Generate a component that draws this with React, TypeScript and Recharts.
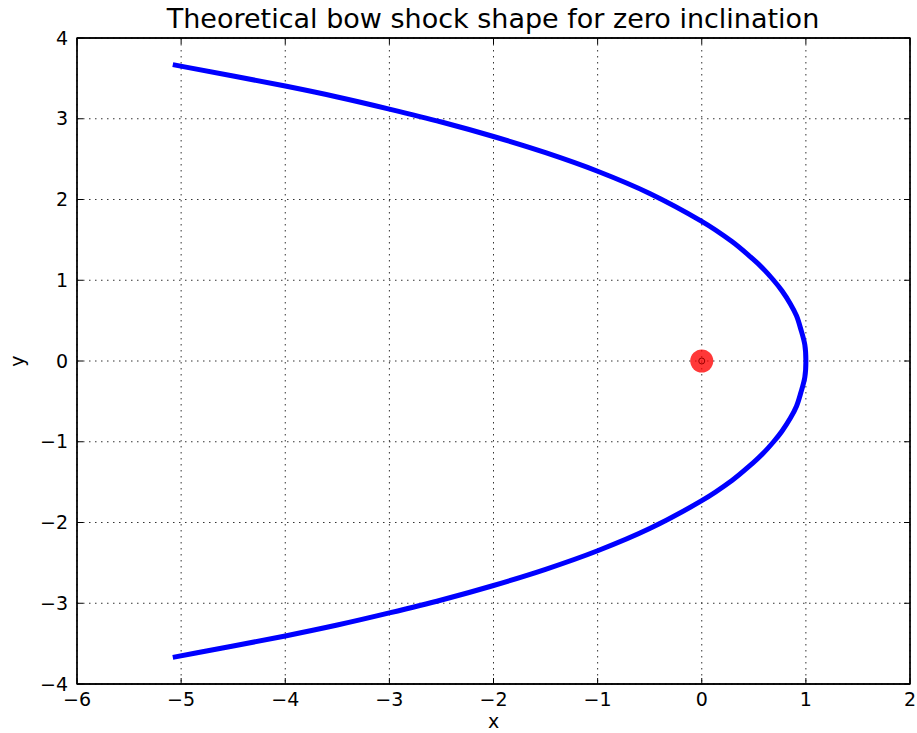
import React from 'react';
import { ComposedChart, Line, Scatter, XAxis, YAxis, CartesianGrid, ReferenceArea } from 'recharts';

// bow shock curve (upper branch then lower branch)
const shockX = [
  -5.08, -4.5, -4, -3.5, -3, -2.5, -2, -1.5, -1, -0.5, 0, 0.29, 0.49, 0.585, 0.69, 0.77, 0.85, 0.91, 0.95, 0.99, 1,
  0.99, 0.95, 0.91, 0.85, 0.77, 0.69, 0.585, 0.49, 0.29, 0, -0.5, -1, -1.5, -2, -2.5, -3, -3.5, -4, -4.5, -5.08,
];
const shockY = [
  3.67, 3.53, 3.405, 3.27, 3.12, 2.96, 2.78, 2.58, 2.35, 2.075, 1.73, 1.48, 1.265, 1.15, 1.0, 0.87, 0.71, 0.56, 0.4, 0.2, 0,
  -0.2, -0.4, -0.56, -0.71, -0.87, -1.0, -1.15, -1.265, -1.48, -1.73, -2.075, -2.35, -2.58, -2.78, -2.96, -3.12, -3.27, -3.405, -3.53, -3.67,
];

// the star at the origin
const starX = [0];
const starY = [0];

const xDomain = [-6, 2];
const yDomain = [-4, 4];
const xTicks = [-6, -5, -4, -3, -2, -1, 0, 1, 2];
const yTicks = [-4, -3, -2, -1, 0, 1, 2, 3, 4];

const shockData = shockX.map((x, i) => ({ x, y: shockY[i] }));
const starData = starX.map((x, i) => ({ x, y: starY[i] }));

const FONT = '"DejaVu Sans", sans-serif';
const minus = (v: number) => String(v).replace('-', '\u2212');
const blank = () => '';

// curve factory: cubic pieces with tangents along the neighbour chord,
// handles scaled to the segment length (keeps unevenly spaced points smooth)
const smoothCurve = (context: any) => {
  let pts: number[][] = [];
  const dir = (a: number[], b: number[]) => {
    const dx = b[0] - a[0];
    const dy = b[1] - a[1];
    const len = Math.hypot(dx, dy) || 1;
    return [dx / len, dy / len];
  };
  return {
    areaStart() {},
    areaEnd() {},
    lineStart() {
      pts = [];
    },
    point(x: number, y: number) {
      pts.push([+x, +y]);
    },
    lineEnd() {
      const n = pts.length;
      if (!n) return;
      context.moveTo(pts[0][0], pts[0][1]);
      for (let i = 0; i < n - 1; i++) {
        const p0 = pts[Math.max(i - 1, 0)];
        const p1 = pts[i];
        const p2 = pts[i + 1];
        const p3 = pts[Math.min(i + 2, n - 1)];
        const d = Math.hypot(p2[0] - p1[0], p2[1] - p1[1]) / 3;
        const t1 = dir(p0, p2);
        const t2 = dir(p1, p3);
        context.bezierCurveTo(p1[0] + t1[0] * d, p1[1] + t1[1] * d, p2[0] - t2[0] * d, p2[1] - t2[1] * d, p2[0], p2[1]);
      }
    },
  };
};

const StarDot = (props: any) => {
  const { cx, cy } = props;
  return (
    <g>
      <circle cx={cx} cy={cy} r={11.5} fill="#ff0000" fillOpacity={0.78} />
      <circle cx={cx} cy={cy} r={3} fill="none" stroke="#990000" strokeWidth={1} />
    </g>
  );
};

export default function App() {
  const tickStyle = { fontSize: 19, fill: '#000', fontFamily: FONT };
  const frame = { stroke: '#000', strokeWidth: 1.3 };
  return (
    <div style={{ position: 'absolute', left: 0, top: 0, width: 917, height: 733, background: '#fff', fontFamily: FONT }}>
      <div
        style={{
          position: 'absolute',
          left: 77,
          width: 832,
          top: 3,
          textAlign: 'center',
          fontSize: 27,
          lineHeight: 'normal',
          color: '#000',
          fontFamily: FONT,
        }}
      >
        Theoretical bow shock shape for zero inclination
      </div>
      <ComposedChart width={917} height={733} margin={{ top: 32, right: 1, bottom: 0, left: 6 }}>
        <CartesianGrid
          xAxisId="bottom"
          yAxisId="left"
          stroke="#333"
          strokeDasharray="1.5 4.5"
          strokeWidth={1}
        />
        <XAxis
          xAxisId="bottom"
          type="number"
          dataKey="x"
          domain={xDomain}
          ticks={xTicks}
          allowDataOverflow
          height={49}
          tickSize={-6}
          tickMargin={15}
          tick={tickStyle}
          tickFormatter={minus}
          axisLine={frame}
          tickLine={{ stroke: '#000' }}
          label={{ value: 'x', position: 'center', dy: 13, fontSize: 19, fill: '#000', fontFamily: FONT }}
        />
        <XAxis
          xAxisId="top"
          orientation="top"
          type="number"
          dataKey="x"
          domain={xDomain}
          ticks={xTicks}
          allowDataOverflow
          height={6}
          tickSize={-6}
          tickFormatter={blank}
          axisLine={frame}
          tickLine={{ stroke: '#000' }}
        />
        <YAxis
          yAxisId="left"
          type="number"
          dataKey="y"
          domain={yDomain}
          ticks={yTicks}
          allowDataOverflow
          width={71}
          tickSize={-6}
          tickMargin={15}
          tick={tickStyle}
          tickFormatter={minus}
          axisLine={frame}
          tickLine={{ stroke: '#000' }}
          label={{ value: 'y', position: 'center', angle: -90, dx: -24, fontSize: 19, fill: '#000', fontFamily: FONT }}
        />
        <YAxis
          yAxisId="right"
          orientation="right"
          type="number"
          dataKey="y"
          domain={yDomain}
          ticks={yTicks}
          allowDataOverflow
          width={6}
          tickSize={-6}
          tickFormatter={blank}
          axisLine={frame}
          tickLine={{ stroke: '#000' }}
        />
        <ReferenceArea
          xAxisId="bottom"
          yAxisId="left"
          x1={xDomain[0]}
          x2={xDomain[1]}
          y1={yDomain[0]}
          y2={yDomain[1]}
          fill="none"
          fillOpacity={0}
          stroke="#000"
          strokeWidth={1.3}
        />
        <Line
          xAxisId="bottom"
          yAxisId="left"
          data={shockData}
          dataKey="y"
          type={smoothCurve as any}
          stroke="#0000ff"
          strokeWidth={5}
          dot={false}
          activeDot={false}
          isAnimationActive={false}
        />
        <Scatter
          xAxisId="top"
          yAxisId="right"
          data={starData}
          dataKey="y"
          shape={<StarDot />}
          isAnimationActive={false}
        />
      </ComposedChart>
    </div>
  );
}
